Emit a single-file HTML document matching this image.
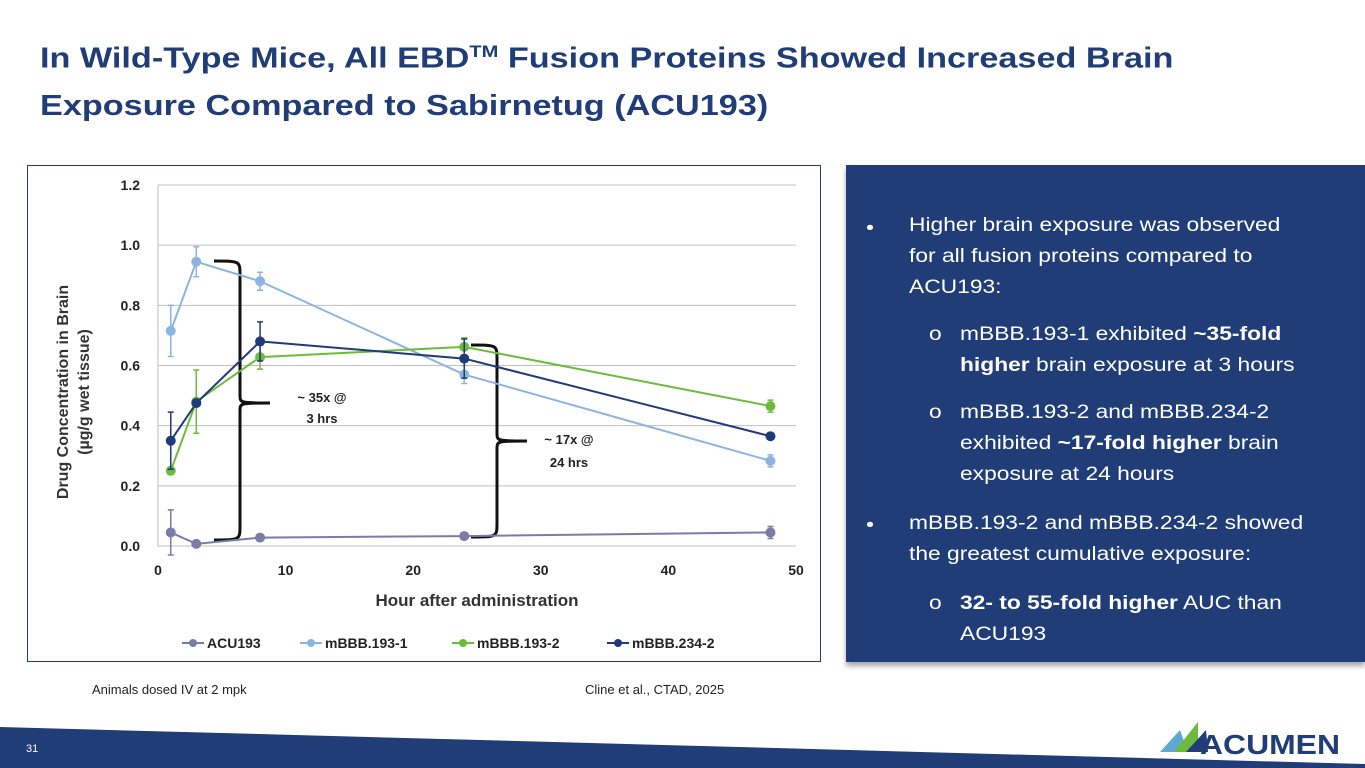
<!DOCTYPE html>
<html><head><meta charset="utf-8">
<style>
body{margin:0;width:1365px;height:768px;overflow:hidden;background:#fff;font-family:"Liberation Sans",sans-serif;position:relative}
.t{position:absolute;white-space:nowrap}
.title{left:40px;color:#213d77;font-weight:bold;font-size:29px;transform:scaleX(1.18);transform-origin:0 0}
.pl{position:absolute;color:#fff;font-size:19px;white-space:nowrap;line-height:22px;transform:scaleX(1.2);transform-origin:0 0}
</style></head><body>
<div class="t title" style="top:42px">In Wild-Type Mice, All EBD<sup style="font-size:17px">TM</sup> Fusion Proteins Showed Increased Brain</div>
<div class="t title" style="top:90px">Exposure Compared to Sabirnetug (ACU193)</div>

<svg id="chart" width="1365" height="768" style="position:absolute;left:0;top:0">
<rect x="27.5" y="165.5" width="793" height="496" fill="#fff" stroke="#213d77" stroke-width="1"/>
</svg>

<div style="position:absolute;left:846px;top:165px;width:519px;height:497px;background:#213d77;box-shadow:0 4px 5px rgba(0,0,0,0.35)">
<div class="pl" style="left:20px;top:53px">•</div>
<div class="pl" style="left:63px;top:50px">Higher brain exposure was observed</div>
<div class="pl" style="left:63px;top:81px">for all fusion proteins compared to</div>
<div class="pl" style="left:63px;top:112px">ACU193:</div>
<div class="pl" style="left:83px;top:159px">o</div>
<div class="pl" style="left:114px;top:159px">mBBB.193-1 exhibited <b>~35-fold</b></div>
<div class="pl" style="left:114px;top:190px"><b>higher</b> brain exposure at 3 hours</div>
<div class="pl" style="left:83px;top:237px">o</div>
<div class="pl" style="left:114px;top:237px">mBBB.193-2 and mBBB.234-2</div>
<div class="pl" style="left:114px;top:268px">exhibited <b>~17-fold higher</b> brain</div>
<div class="pl" style="left:114px;top:299px">exposure at 24 hours</div>
<div class="pl" style="left:20px;top:350px">•</div>
<div class="pl" style="left:63px;top:348px">mBBB.193-2 and mBBB.234-2 showed</div>
<div class="pl" style="left:63px;top:379px">the greatest cumulative exposure:</div>
<div class="pl" style="left:83px;top:428px">o</div>
<div class="pl" style="left:114px;top:428px"><b>32- to 55-fold higher</b> AUC than</div>
<div class="pl" style="left:114px;top:459px">ACU193</div>
</div>

<div class="t" style="left:92px;top:682px;font-size:13px;color:#222">Animals dosed IV at 2 mpk</div>
<div class="t" style="left:585px;top:682px;font-size:13px;color:#222">Cline et al., CTAD, 2025</div>

<svg width="1365" height="768" style="position:absolute;left:0;top:0">
<polygon points="0,727 1365,764 1365,768 0,768" fill="#213d77"/>
<text x="26" y="752" font-size="11" fill="#fff" font-family="Liberation Sans">31</text>
<g>
<polygon points="1160,752 1180,730 1188,752" fill="#5fa8d3"/>
<polygon points="1174,752 1198,722 1198,752" fill="#6dbb3d"/>
<polygon points="1186,752 1206,730 1208,752" fill="#213d77"/>
<text x="1200" y="754" font-size="28" font-weight="bold" fill="#213d77" font-family="Liberation Sans" textLength="140" lengthAdjust="spacingAndGlyphs">ACUMEN</text>
</g>
</svg>

<script>
const times=[1,3,8,24,48];
const seriesNames=["ACU193","mBBB.193-1","mBBB.193-2","mBBB.234-2"];
const acu193=[0.045,0.007,0.028,0.033,0.045];
const acu193Err=[0.075,0.005,0.005,0.005,0.02];
const m1931=[0.715,0.945,0.88,0.57,0.283];
const m1931Err=[0.085,0.05,0.03,0.03,0.02];
const m1932=[0.25,0.48,0.628,0.662,0.465];
const m1932Err=[0.005,0.105,0.04,0.03,0.02];
const m2342=[0.35,0.475,0.68,0.623,0.365];
const m2342Err=[0.095,0.01,0.065,0.065,0.01];
const yTicks=["0.0","0.2","0.4","0.6","0.8","1.0","1.2"];
const xTicks=["0","10","20","30","40","50"];
const colors=["#7b7ba8","#8db4e0","#6dbb3d","#1f3a78"];

const svg=document.getElementById('chart');
const NS="http://www.w3.org/2000/svg";
const X=v=>158+(v-0)*(796-158)/50;
const Y=v=>546-v*(546-185)/1.2;
function mk(tag,attrs,parent){const e=document.createElementNS(NS,tag);for(const k in attrs)e.setAttribute(k,attrs[k]);(parent||svg).appendChild(e);return e;}

yTicks.forEach(t=>{const v=parseFloat(t);
 const g=mk('line',{x1:158,x2:796,y1:Y(v),y2:Y(v),stroke:'#bfbfbf','stroke-width':1});
 
 
 const l=mk('text',{x:140,y:Y(v)+5,'text-anchor':'end','font-size':14,'font-weight':'bold',fill:'#222'});l.textContent=t;
 
 
});
const ax=mk('line',{x1:158,x2:158,y1:185,y2:546,stroke:'#bfbfbf'});


xTicks.forEach(t=>{const l=mk('text',{x:X(parseFloat(t)),y:575,'text-anchor':'middle','font-size':14,'font-weight':'bold',fill:'#222'});l.textContent=t;
 
 
});
const xt=mk('text',{x:477,y:606,'text-anchor':'middle','font-size':17,'font-weight':'bold',fill:'#333'});xt.textContent='Hour after administration';


const yt=mk('text',{transform:'translate(68,392) rotate(-90)','text-anchor':'middle','font-size':16,'font-weight':'bold',fill:'#333'});


const ts1=mk('tspan',{x:0,y:0},yt);ts1.textContent='Drug Concentration in Brain';
const ts2=mk('tspan',{x:0,y:21},yt);ts2.textContent='(µg/g wet tissue)';

function brace(x,y1,y2,ym,name){const p=`M${x-26},${y1} C${x},${y1} ${x},${y1} ${x},${y1+14} L${x},${ym-8} C${x},${ym} ${x},${ym} ${x+30},${ym} M${x+30},${ym} C${x},${ym} ${x},${ym} ${x},${ym+8} L${x},${y2-14} C${x},${y2} ${x},${y2} ${x-26},${y2}`;
 const b=mk('path',{d:p,fill:'none',stroke:'#111','stroke-width':3});
 
 }
brace(240,261,540,403,'brace-3hrs');
brace(497,345,537,441,'brace-24hrs');
function ann(x,y,s,name){const t=mk('text',{x:x,y:y,'text-anchor':'middle','font-size':13,'font-weight':'bold',fill:'#222'});t.textContent=s;
 
 }
ann(322,402,'~ 35x @','annotation-35x');ann(322,423,'3 hrs','annotation-3hrs');
ann(569,444,'~ 17x @','annotation-17x');ann(569,467,'24 hrs','annotation-24hrs');

const all=[[acu193,acu193Err],[m1931,m1931Err],[m1932,m1932Err],[m2342,m2342Err]];
all.forEach(([vals,errs],si)=>{const c=colors[si];
 const pl=mk('polyline',{points:times.map((t,i)=>X(t)+','+Y(vals[i])).join(' '),fill:'none',stroke:c,'stroke-width':2});
 
 
 times.forEach((t,i)=>{const x=X(t);
  const e=mk('path',{d:`M${x},${Y(vals[i]+errs[i])} V${Y(vals[i]-errs[i])} M${x-3},${Y(vals[i]+errs[i])} h6 M${x-3},${Y(vals[i]-errs[i])} h6`,stroke:c,'stroke-width':1.5,fill:'none'});
  
  
  const p=mk('circle',{cx:x,cy:Y(vals[i]),r:5,fill:c});
  
  
 });
});
const lx=[182,300,452,607];
seriesNames.forEach((n,i)=>{
 const g=mk('g',{});
 
 
 mk('line',{x1:lx[i],x2:lx[i]+22,y1:643,y2:643,stroke:colors[i],'stroke-width':2},g);
 mk('circle',{cx:lx[i]+11,cy:643,r:4,fill:colors[i]},g);
 const t=mk('text',{x:lx[i]+25,y:648,'font-size':14,'font-weight':'bold',fill:'#222'},g);t.textContent=n;
});
</script>
</body></html>
